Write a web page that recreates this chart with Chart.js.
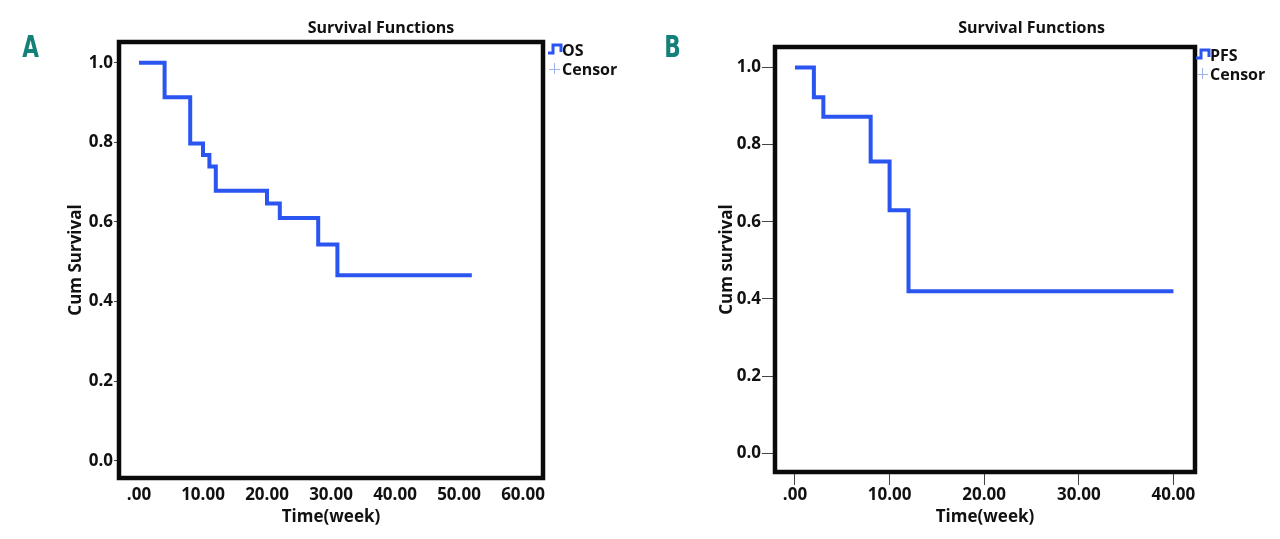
<!DOCTYPE html>
<html>
<head>
<meta charset="utf-8">
<script src="https://cdn.jsdelivr.net/npm/chart.js@4.4.1/dist/chart.umd.min.js"></script>
<style>
  html, body { margin: 0; padding: 0; background: #fff; }
  #wrap { position: relative; width: 1280px; height: 539px; }
  canvas { position: absolute; top: 0; }
</style>
</head>
<body>
<div id="wrap">
  <canvas id="chartA" width="640" height="539" style="left:0"></canvas>
  <canvas id="chartB" width="640" height="539" style="left:640px"></canvas>
</div>
<script>
// overall survival (panel A)
const osWeeks = [0, 4, 8, 10, 11, 12, 20, 22, 28, 31, 52];
const osSurvival = [1, 0.913, 0.797, 0.768, 0.739, 0.678, 0.646, 0.610, 0.543, 0.466, 0.466];

// progression free survival (panel B)
const pfsWeeks = [0, 2, 3, 8, 10, 12, 40];
const pfsSurvival = [1, 0.923, 0.872, 0.756, 0.630, 0.420, 0.420];

const yTicks = [0, 0.2, 0.4, 0.6, 0.8, 1.0];
const osXTicks = [0, 10, 20, 30, 40, 50, 60];
const pfsXTicks = [0, 10, 20, 30, 40];

const FONT = '"Open Sans", "DejaVu Sans", sans-serif';
const lineBlue = '#2b55f0';

function pts(xs, ys) {
  return xs.map((x, i) => ({ x: x, y: ys[i] }));
}

// frame, title, panel letter and legend
const decorPlugin = {
  id: 'decor',
  afterDraw(chart, args, o) {
    const ctx = chart.ctx;
    const a = chart.chartArea;
    ctx.save();
    ctx.strokeStyle = '#0a0a0a';
    ctx.lineWidth = 4.5;
    ctx.strokeRect(a.left, a.top, a.right - a.left, a.bottom - a.top);

    ctx.fillStyle = '#111';
    ctx.textAlign = 'center';
    ctx.textBaseline = 'middle';
    ctx.font = 'bold 16px ' + FONT;
    ctx.fillText('Survival Functions', o.titleX, 28);

    // panel letter, narrow
    ctx.save();
    ctx.fillStyle = '#14807a';
    ctx.font = 'bold 30px "DejaVu Sans", sans-serif';
    ctx.translate(o.letterX, 49);
    ctx.scale(0.72, 1);
    ctx.fillText(o.letter, 0, 0);
    ctx.restore();

    // legend: step icon + series name
    const lx = o.legendX, ly = o.legendY;
    ctx.strokeStyle = lineBlue;
    ctx.lineWidth = 3;
    ctx.beginPath();
    ctx.moveTo(lx, ly + 8);
    ctx.lineTo(lx + 5, ly + 8);
    ctx.lineTo(lx + 5, ly);
    ctx.lineTo(lx + 13, ly);
    ctx.lineTo(lx + 13, ly + 7);
    ctx.stroke();
    // censor mark
    ctx.strokeStyle = '#9fb3ea';
    ctx.lineWidth = 1;
    ctx.beginPath();
    ctx.moveTo(lx + 1, ly + 24.5);
    ctx.lineTo(lx + 12, ly + 24.5);
    ctx.moveTo(lx + 6.5, ly + 18);
    ctx.lineTo(lx + 6.5, ly + 29);
    ctx.stroke();

    ctx.fillStyle = '#111';
    ctx.textAlign = 'left';
    ctx.font = 'bold 16px ' + FONT;
    ctx.fillText(o.name, lx + 14, ly + 6);
    ctx.fillText('Censor', lx + 14, ly + 25);
    ctx.restore();
  }
};

function criarGrafico(id, cfg) {
  const ctx = document.getElementById(id).getContext('2d');
  return new Chart(ctx, {
    type: 'line',
    data: {
      datasets: [{
        label: cfg.name,
        data: pts(cfg.xs, cfg.ys),
        borderColor: lineBlue,
        backgroundColor: lineBlue,
        borderWidth: 4,
        stepped: true,
        pointRadius: 0,
        fill: false
      }]
    },
    options: {
      responsive: false,
      animation: false,
      layout: {
        padding: { left: 0, top: cfg.area.top, right: 640 - cfg.area.right, bottom: 0 }
      },
      plugins: {
        legend: { display: false },
        title: { display: false },
        tooltip: { enabled: false },
        decor: cfg.decor
      },
      scales: {
        x: {
          type: 'linear',
          min: cfg.xMin,
          max: cfg.xMax,
          afterBuildTicks: s => { s.ticks = cfg.xTicks.map(v => ({ value: v })); },
          afterFit: s => { s.height = 539 - cfg.area.bottom; },
          border: { display: false },
          grid: {
            drawOnChartArea: false,
            drawTicks: true,
            tickLength: cfg.xTickLen,
            tickColor: cfg.xTickColor
          },
          ticks: {
            padding: cfg.xTickPad,
            color: '#111',
            font: { family: FONT, size: 17, weight: 'bold' },
            callback: v => v === 0 ? '.00' : v.toFixed(2)
          },
          title: {
            display: true,
            text: 'Time(week)',
            color: '#111',
            font: { family: FONT, size: 17, weight: 'bold' },
            padding: { top: 0, bottom: 11.8 }
          }
        },
        y: {
          type: 'linear',
          min: cfg.yMin,
          max: cfg.yMax,
          afterBuildTicks: s => { s.ticks = yTicks.map(v => ({ value: v })); },
          afterFit: s => { s.width = cfg.area.left; },
          border: { display: false },
          grid: {
            drawOnChartArea: false,
            drawTicks: true,
            tickLength: cfg.yTickLen,
            tickColor: '#444'
          },
          ticks: {
            padding: 1,
            color: '#111',
            font: { family: FONT, size: 17, weight: 'bold' },
            callback: v => v.toFixed(1)
          },
          title: {
            display: true,
            text: cfg.yTitle,
            color: '#111',
            font: { family: FONT, size: 17, weight: 'bold' },
            padding: { top: cfg.yTitlePad, bottom: 0 }
          }
        }
      }
    },
    plugins: [decorPlugin]
  });
}

criarGrafico('chartA', {
  name: 'OS',
  xs: osWeeks,
  ys: osSurvival,
  area: { left: 119, right: 543, top: 42, bottom: 478 },
  xMin: -3.125, xMax: 63.125,
  yMin: -0.0435, yMax: 1.052,
  xTicks: osXTicks,
  xTickLen: 6, xTickPad: 1, xTickColor: 'rgba(0,0,0,0)',
  yTickLen: 5,
  yTitle: 'Cum Survival',
  yTitlePad: 65.8,
  decor: { titleX: 381, letter: 'A', letterX: 30.5, legendX: 548, legendY: 45, name: 'OS' }
});

criarGrafico('chartB', {
  name: 'PFS',
  xs: pfsWeeks,
  ys: pfsSurvival,
  area: { left: 135, right: 555, top: 47, bottom: 472 },
  xMin: -2.11, xMax: 42.28,
  yMin: -0.0485, yMax: 1.053,
  xTicks: pfsXTicks,
  xTickLen: 13, xTickPad: 0, xTickColor: '#444',
  yTickLen: 13,
  yTitle: 'Cum survival',
  yTitlePad: 76.8,
  decor: { titleX: 391.6, letter: 'B', letterX: 32.5, legendX: 556, legendY: 50, name: 'PFS' }
});
</script>
</body>
</html>
